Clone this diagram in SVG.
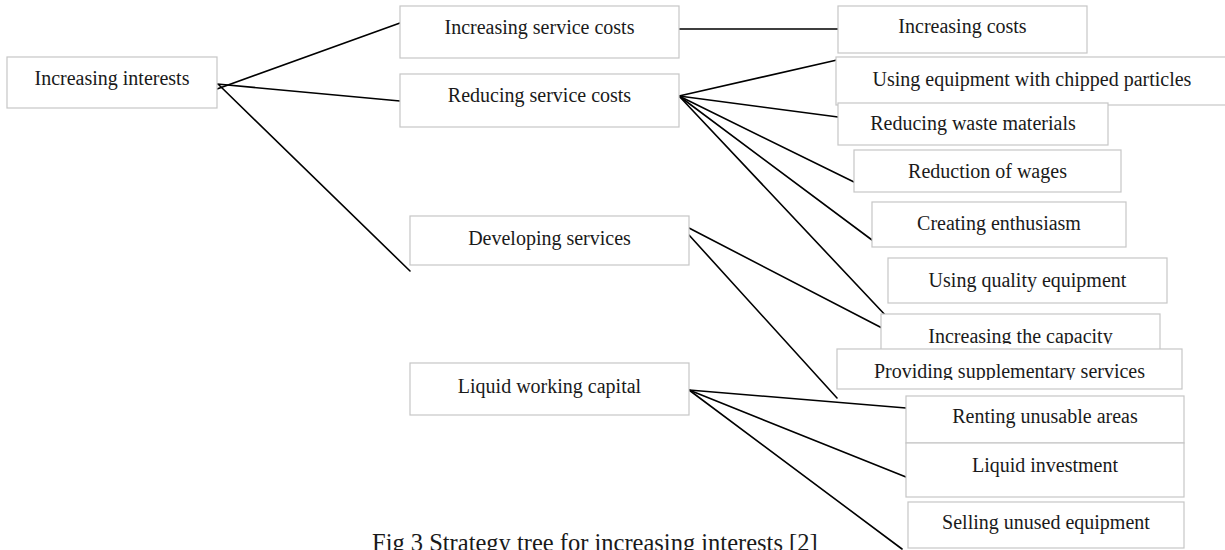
<svg xmlns="http://www.w3.org/2000/svg" width="1225" height="550" viewBox="0 0 1225 550">
  <style>
    .box { fill: #ffffff; stroke: #c6c6c6; stroke-width: 1.2; }
    .lbl { font-family: "Liberation Serif", "Times New Roman", serif; font-size: 20px; fill: #1a1a1a; text-anchor: middle; }
    .cap { font-family: "Liberation Serif", "Times New Roman", serif; font-size: 24.5px; fill: #1a1a1a; }
    .edge { stroke: #000000; stroke-width: 1.6; fill: none; stroke-linecap: round; }
  </style>
  <defs>
    <clipPath id="clip-capacity"><rect x="881" y="314" width="279" height="30"/></clipPath>
    <clipPath id="clip-supplementary"><rect x="837" y="349" width="345" height="31"/></clipPath>
  </defs>
  <rect width="1225" height="550" fill="#ffffff"/>

  <!-- connectors -->
  <g id="connectors">
    <line class="edge" x1="217" y1="89" x2="400" y2="23"/>
    <line class="edge" x1="217" y1="84" x2="400" y2="101"/>
    <line class="edge" x1="219" y1="85" x2="410" y2="271"/>

    <line class="edge" x1="679" y1="29" x2="838" y2="29"/>

    <line class="edge" x1="679" y1="96" x2="837" y2="60"/>
    <line class="edge" x1="679" y1="96" x2="838" y2="117"/>
    <line class="edge" x1="679" y1="96" x2="854" y2="182"/>
    <line class="edge" x1="679" y1="96" x2="872" y2="240"/>
    <line class="edge" x1="679" y1="96" x2="888" y2="318"/>

    <line class="edge" x1="689" y1="228" x2="882" y2="328"/>
    <line class="edge" x1="689" y1="235" x2="837" y2="398"/>

    <line class="edge" x1="689" y1="390" x2="906" y2="408"/>
    <line class="edge" x1="689" y1="390" x2="906" y2="477"/>
    <line class="edge" x1="689" y1="390" x2="902" y2="549"/>
  </g>

  <!-- level 0 -->
  <g id="n-increasing-interests">
    <rect class="box" x="7" y="57" width="210" height="51"/>
    <text class="lbl" x="112" y="85">Increasing interests</text>
  </g>

  <!-- level 1 -->
  <g id="n-increasing-service-costs">
    <rect class="box" x="400" y="6" width="279" height="52"/>
    <text class="lbl" x="539.5" y="34">Increasing service costs</text>
  </g>
  <g id="n-reducing-service-costs">
    <rect class="box" x="400" y="74" width="279" height="53"/>
    <text class="lbl" x="539.5" y="102">Reducing service costs</text>
  </g>
  <g id="n-developing-services">
    <rect class="box" x="410" y="216" width="279" height="49"/>
    <text class="lbl" x="549.5" y="245">Developing services</text>
  </g>
  <g id="n-liquid-working-capital">
    <rect class="box" x="410" y="363" width="279" height="52"/>
    <text class="lbl" x="549.5" y="393">Liquid working capital</text>
  </g>

  <!-- level 2 -->
  <g id="n-increasing-costs">
    <rect class="box" x="838" y="6" width="249" height="47"/>
    <text class="lbl" x="962.5" y="33">Increasing costs</text>
  </g>
  <g id="n-chipped-particles">
    <rect class="box" x="836" y="57" width="390" height="48"/>
    <text class="lbl" x="1032" y="86">Using equipment with chipped particles</text>
  </g>
  <g id="n-waste-materials">
    <rect class="box" x="838" y="103" width="270" height="42"/>
    <text class="lbl" x="973" y="130">Reducing waste materials</text>
  </g>
  <g id="n-wages">
    <rect class="box" x="854" y="150" width="267" height="42"/>
    <text class="lbl" x="987.5" y="178">Reduction of wages</text>
  </g>
  <g id="n-enthusiasm">
    <rect class="box" x="872" y="202" width="254" height="45"/>
    <text class="lbl" x="999" y="230">Creating enthusiasm</text>
  </g>
  <g id="n-quality-equipment">
    <rect class="box" x="888" y="258" width="279" height="45"/>
    <text class="lbl" x="1027.5" y="287">Using quality equipment</text>
  </g>
  <g id="n-capacity">
    <rect class="box" x="881" y="314" width="279" height="40"/>
    <text class="lbl" x="1020.5" y="343" clip-path="url(#clip-capacity)">Increasing the capacity</text>
  </g>
  <g id="n-supplementary">
    <rect class="box" x="837" y="349" width="345" height="40"/>
    <text class="lbl" x="1009.5" y="378" clip-path="url(#clip-supplementary)">Providing supplementary services</text>
  </g>
  <g id="n-renting">
    <rect class="box" x="906" y="396" width="278" height="47"/>
    <text class="lbl" x="1045" y="423">Renting unusable areas</text>
  </g>
  <g id="n-liquid-investment">
    <rect class="box" x="906" y="443" width="278" height="54"/>
    <text class="lbl" x="1045" y="472">Liquid investment</text>
  </g>
  <g id="n-selling">
    <rect class="box" x="908" y="502" width="276" height="46"/>
    <text class="lbl" x="1046" y="529">Selling unused equipment</text>
  </g>

  <text class="cap" x="372" y="551">Fig 3 Strategy tree for increasing interests [2]</text>
</svg>
